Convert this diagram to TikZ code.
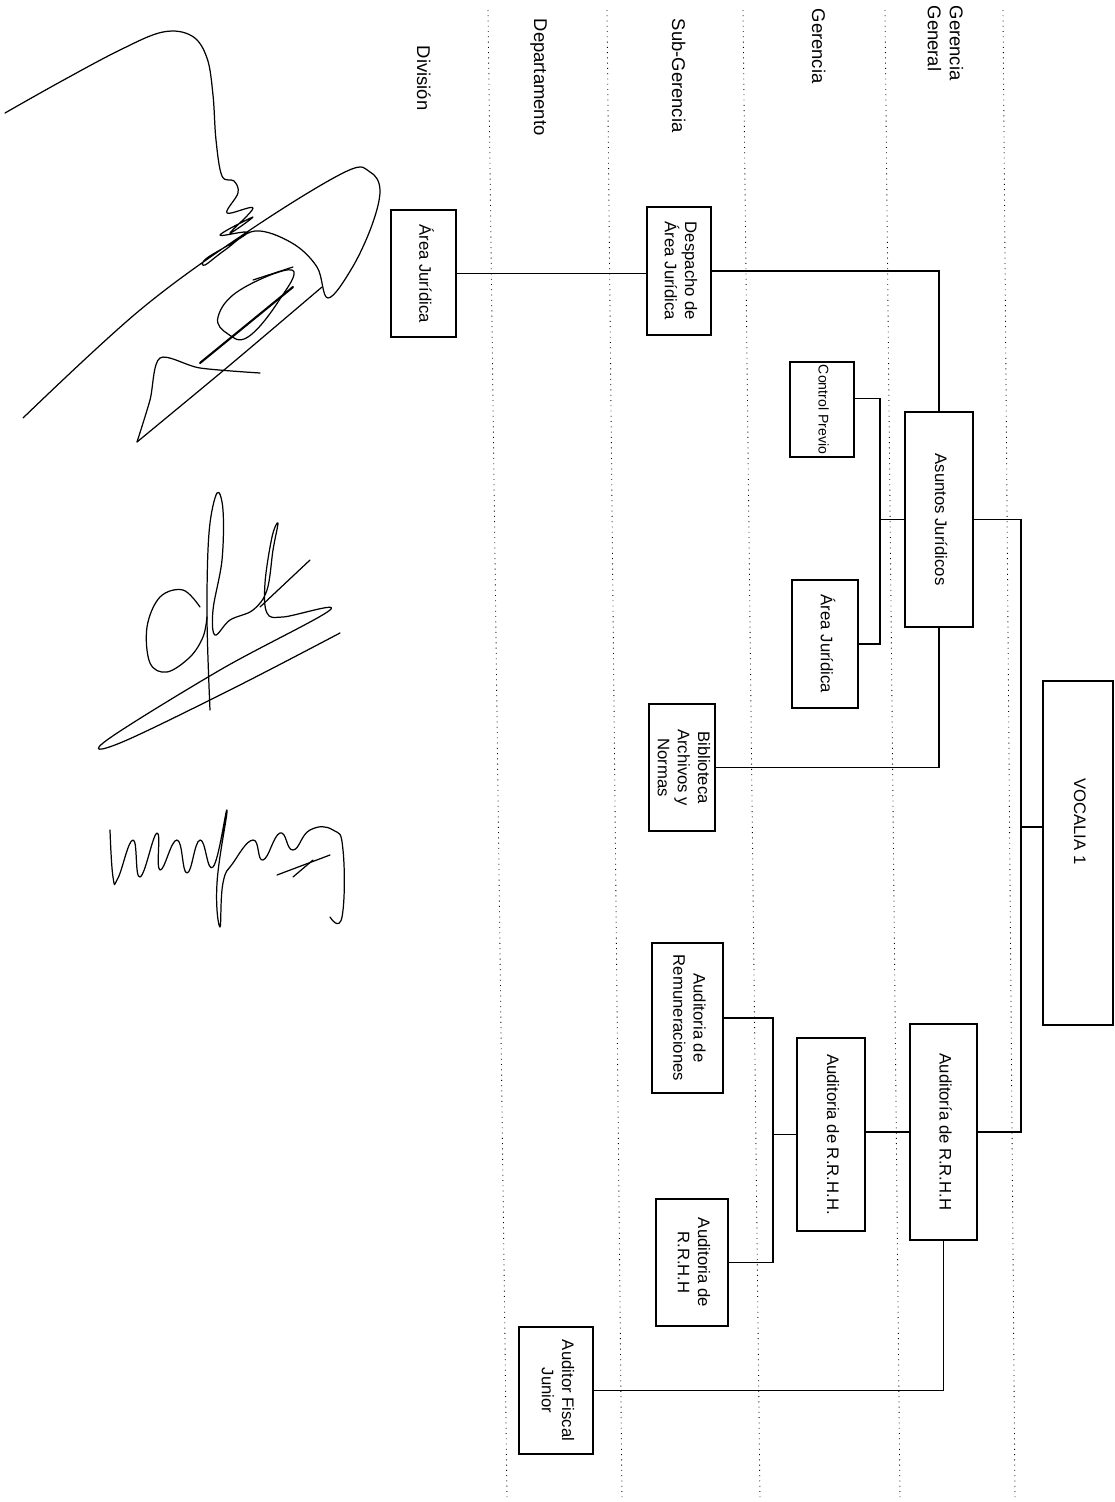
\documentclass[tikz,border=0pt]{standalone}
\usepackage{fontspec}
\setmainfont{Liberation Sans}
\usepackage{graphicx}
\usetikzlibrary{calc}
\newcommand{\boxfont}{\fontsize{9.5}{11.4}\selectfont}
\newcommand{\lvlfont}{\fontsize{10.5}{12.5}\selectfont}
\newcommand{\vtext}[1]{\rotatebox{-90}{\begin{tabular}{@{}c@{}}#1\end{tabular}}}
\begin{document}
\begin{tikzpicture}[x=0.02cm, y=-0.02cm, line width=0.8pt,
    box/.style={draw, inner sep=0pt, font=\boxfont},
    wh/.style 2 args={minimum width=#1*0.02cm, minimum height=#2*0.02cm},
    lvl/.style={rotate=-90, inner sep=0pt, align=left, font=\lvlfont},
    guide/.style={line width=0.5pt, dash pattern=on 0.5pt off 2.5pt},
    sign/.style={line width=0.7pt, line cap=round, line join=round}]
    \useasboundingbox (0,0) rectangle (1115,1502);
    % level guides
    \foreach \xa/\xb in {488/507, 607/622, 743/760, 885/900, 1003/1015}
        \draw[guide] (\xa,10) -- (\xb,1500);
    \node[lvl, anchor=north west] (gg) at (964,5) {Gerencia\\General};
    \node[lvl, anchor=base west] (ge) at (812,8) {Gerencia};
    \node[lvl, anchor=base west] (sg) at (672,18) {Sub-Gerencia};
    \node[lvl, anchor=base west] (dp) at (534,18) {Departamento};
    \node[lvl, anchor=base west] (dv) at (417,45) {División};
    % boxes
    \node[box, wh={70}{344}] (voc) at (1078,853) {\vtext{VOCALIA 1\hspace*{36pt}}};
    \node[box, wh={68}{215}] (asu) at (939,519.5) {\vtext{Asuntos Jurídicos}};
    \node[box, wh={64}{95}, font=\fontsize{8}{9.6}\selectfont] (cp) at (822,409.5) {\vtext{Control Previo}};
    \node[box, wh={66}{128}] (aj2) at (825,644) {\vtext{Área Jurídica}};
    \node[box, wh={66}{127}] (bib) at (682,767.5) {\vtext{Biblioteca\\Archivos y\\Normas}};
    \node[box, wh={64}{128}] (desp) at (679,271) {\vtext{Despacho de\\Área Jurídica}};
    \node[box, wh={65}{127}] (ajd) at (423.5,273.5) {\vtext{Área Jurídica}};
    \node[box, wh={67}{216}] (rh1) at (943.5,1132) {\vtext{Auditoría de R.R.H.H}};
    \node[box, wh={68}{193}] (rh2) at (831,1134.5) {\vtext{Auditoria de R.R.H.H.}};
    \node[box, wh={71}{150}] (rem) at (687.5,1018) {\vtext{Auditoria de\\Remuneraciones}};
    \node[box, wh={72}{127}] (rh3) at (692,1262.5) {\vtext{Auditoria de\\R.R.H.H}};
    \node[box, wh={74}{127}] (afj) at (556,1390.5) {\vtext{Auditor Fiscal\\Junior}};
    % connectors
    \coordinate (tk) at (1021,827);
    \draw (asu.east) -| (tk) |- (rh1.east);
    \draw (voc.west |- tk) -- (tk);
    \draw (desp.east) -| (asu.north);
    \draw (ajd.east) -- (ajd.east -| desp.west);
    \draw (asu.south) |- (bib.east);
    \coordinate (jb) at (880,519.5);
    \draw (asu.west) -- (jb);
    \draw ($(cp.east)+(0,-11)$) -| (jb) |- (aj2.east);
    \draw (rh1.west) -- (rh1.west -| rh2.east);
    \draw (rh1.south) |- (afj.east);
    \coordinate (rb) at (773,1134.5);
    \draw (rh2.west) -- (rb);
    \draw (rem.east) -| (rb) |- (rh3.east);
    % signatures
    \draw[sign] plot[smooth, tension=0.6] coordinates {(5,113) (60,82) (120,50) (163,32) (192,36) (207,58) (213,95) (216,140) (222,176) (234,181) (238,193) (227,213) (253,208) (230,233) (253,217) (220,235) (247,233) (207,258) (205,265) (225,250) (255,231) (292,243) (317,267) (328,298) (352,268) (372,225) (380,190) (370,172) (345,172) (250,230) (140,310) (23,418)};
    \draw[sign] plot[smooth, tension=0.5] coordinates {(137,442) (230,365) (322,287)};
    \draw[sign] plot[smooth, tension=0.5] coordinates {(137,442) (150,400) (160,358) (200,368) (260,373)};
    \draw[sign, line width=1.2pt] (200,363) -- (293,287);
    \draw[sign] plot[smooth cycle, tension=0.7] coordinates {(292,270) (240,290) (218,317) (228,334) (248,337) (278,302)};
    \draw[sign] (253,280) -- (293,267);
    \draw[sign] plot[smooth, tension=0.6] coordinates {(200,607) (183,590) (160,597) (147,627) (150,663) (167,672) (190,657) (203,637) (207,617)};
    \draw[sign] plot[smooth, tension=0.6] coordinates {(210,710) (207,617) (209,533) (217,493) (223,510) (222,560) (213,610) (215,635) (230,620) (253,610) (267,590) (273,550) (278,523) (272,537) (265,583) (267,613) (283,617) (330,610) (220,670) (107,740) (120,743) (230,690) (340,633)};
    \draw[sign] (260,607) -- (310,560);
    \draw[sign] plot[smooth, tension=0.8] coordinates {(110,830) (113,877) (118,878) (133,840) (140,877) (157,833) (160,870) (177,840) (187,873) (200,840) (213,867) (227,810) (217,883) (220,927) (223,883) (233,863) (253,840) (263,860) (280,833) (293,850) (310,830) (333,830) (343,850) (342,917) (330,917)};
    \draw[sign] (277,875) -- (330,855);
    \draw[sign] (293,877) -- (313,860);
\end{tikzpicture}
\end{document}
